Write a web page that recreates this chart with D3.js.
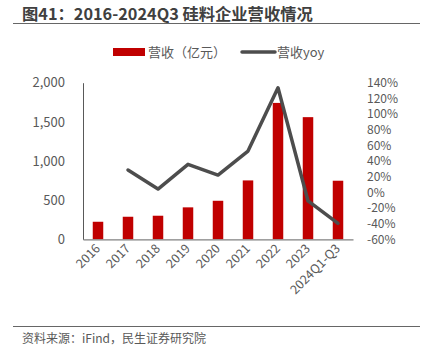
<!DOCTYPE html>
<html><head><meta charset="utf-8">
<script src="https://cdn.jsdelivr.net/npm/d3@7"></script>
<style>
body{margin:0;background:#fff;}
text{font-family:"Noto Sans CJK SC","Noto Sans",sans-serif;}
</style></head><body>
<svg id="c" width="427" height="350"></svg>
<script>
const categories = ["2016","2017","2018","2019","2020","2021","2022","2023","2024Q1-Q3"];
const revenue = [224, 288, 301, 408, 492, 752, 1742, 1560, 748];
const yoy = [null, 28.5, 4.2, 35.8, 22, 52.7, 133.6, -11, -39.6];
const leftTicks = [0, 500, 1000, 1500, 2000];
const rightTicks = [-60,-40,-20,0,20,40,60,80,100,120,140];

const svg = d3.select("#c");
const grey = "#595959";
const x0 = 83, x1 = 353, yTop = 82.7, yBot = 239.3;

// Title
svg.append("text").attr("x",22).attr("y",20).attr("font-size",16.3).attr("font-weight","bold")
  .attr("fill","#404040").text("图41：2016-2024Q3 硅料企业营收情况");
svg.append("line").attr("x1",13).attr("x2",420).attr("y1",23.5).attr("y2",23.5)
  .attr("stroke","#666").attr("stroke-width",1.2);

// Legend
svg.append("rect").attr("x",113).attr("y",48).attr("width",32).attr("height",8).attr("fill","#c00000");
svg.append("text").attr("x",148).attr("y",57).attr("font-size",13).attr("fill",grey).text("营收（亿元）");
svg.append("line").attr("x1",242).attr("x2",275).attr("y1",52).attr("y2",52)
  .attr("stroke","#4d4d4d").attr("stroke-width",3.5).attr("stroke-linecap","round");
svg.append("text").attr("x",277).attr("y",57).attr("font-size",13).attr("fill",grey).text("营收yoy");

const x = d3.scaleBand().domain(categories).range([x0,x1]).paddingInner(0.65).paddingOuter(0.325);
const xc = d => x(d) + x.bandwidth()/2;
const yL = d3.scaleLinear().domain([0,2000]).range([yBot,yTop]);
const yR = d3.scaleLinear().domain([-60,140]).range([yBot,yTop]);

// bars
svg.append("g").selectAll("rect").data(categories).join("rect")
  .attr("x",d=>x(d)).attr("width",x.bandwidth())
  .attr("y",(d,i)=>yL(revenue[i])).attr("height",(d,i)=>yBot-yL(revenue[i]))
  .attr("fill","#c00000");

// left axis
const gl = svg.append("g").attr("transform",`translate(${x0},0)`)
  .call(d3.axisLeft(yL).tickValues(leftTicks).tickFormat(d3.format(",")).tickSize(0).tickPadding(18));
gl.select(".domain").attr("stroke","#595959").attr("stroke-width",1);
gl.selectAll("text").attr("font-size",13).attr("fill",grey).attr("font-family","'Noto Sans','Open Sans',sans-serif");

// right axis
const gr = svg.append("g").attr("transform",`translate(${x1},0)`)
  .call(d3.axisRight(yR).tickValues(rightTicks).tickFormat(d=>d+"%").tickSize(0).tickPadding(14));
gr.select(".domain").remove();
gr.selectAll("text").attr("font-size",12).attr("fill",grey).attr("font-family","'Noto Sans','Open Sans',sans-serif");

// x axis
const gx = svg.append("g").attr("transform",`translate(0,${yBot})`)
  .call(d3.axisBottom(x).tickSize(0).tickPadding(0));
gx.select(".domain").attr("stroke","#808080").attr("stroke-width",1.2);
gx.selectAll("text").attr("font-size",12.5).attr("fill",grey)
  .attr("font-family","'Noto Sans','Open Sans',sans-serif")
  .attr("text-anchor","end").attr("dy",0)
  .attr("transform","translate(3,10) rotate(-45)");

// line
const line = d3.line().defined(d=>d.v!==null).x(d=>xc(d.c)).y(d=>yR(d.v));
svg.append("path").datum(categories.map((c,i)=>({c,v:yoy[i]})))
  .attr("d",line).attr("fill","none").attr("stroke","#4d4d4d").attr("stroke-width",3.5)
  .attr("stroke-linejoin","round").attr("stroke-linecap","round");

// footer
svg.append("line").attr("x1",13).attr("x2",420).attr("y1",326.5).attr("y2",326.5)
  .attr("stroke","#666").attr("stroke-width",1);
svg.append("text").attr("x",22).attr("y",343).attr("font-size",12).attr("fill",grey)
  .text("资料来源：iFind，民生证券研究院");
</script></body></html>
